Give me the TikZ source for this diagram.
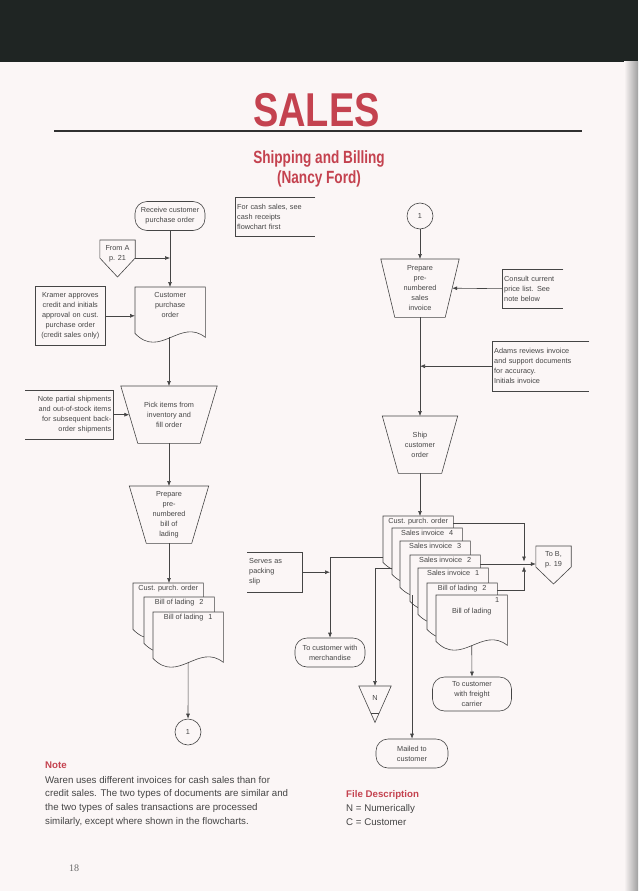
\documentclass[tikz,border=0pt]{standalone}
\usepackage{fontspec}
\setmainfont{Liberation Sans}
\newfontfamily\pagenumfont{Liberation Serif}
\usepackage{tikz}
\usetikzlibrary{arrows.meta,calc,positioning}
\definecolor{paper}{HTML}{FBF6F6}
\definecolor{band}{HTML}{1F2523}
\definecolor{ink}{HTML}{454545}
\definecolor{salesred}{HTML}{C4424F}
% document outline with a wavy foot
\newcommand\docshape[1]{%
  \draw[line,fill=paper] (#1.north west) -- (#1.north east) -- ([yshift=6pt]#1.south east)
    .. controls ([xshift=-25pt,yshift=26pt]#1.south east) and ([xshift=25pt,yshift=-16pt]#1.south west) .. ([yshift=10pt]#1.south west) -- cycle;}

\begin{document}
\begin{tikzpicture}[x=1pt,y=-1pt,
  line/.style={draw=ink,line width=0.6pt},
  flow/.style={line,-{Latex[length=5pt,width=4pt]}},
  txt/.style={font=\fontsize{7.3}{10}\selectfont,text=ink,inner sep=0pt,align=center},
  term/.style={txt,line,rounded corners=12pt,minimum width=70pt,minimum height=29pt},
  docu/.style={minimum width=70pt,minimum height=56pt,inner sep=0pt,anchor=north west},
  manop/.style={txt,minimum height=57pt,anchor=north},
  remark/.style={txt,inner xsep=2pt,anchor=north west},
  conn/.style={txt,line,circle,minimum size=26pt},
  body/.style={font=\fontsize{9.7}{13.7}\selectfont,text=ink,inner sep=0pt,align=left,anchor=north west},
  head/.style={font=\bfseries\fontsize{9.7}{13.7}\selectfont,text=salesred,inner sep=0pt,anchor=north west}]
  \fill[paper] (0,0) rectangle (638,891);
  \fill[band] (0,0) rectangle (638,62);
  \shade[left color=paper,right color=gray!75] (624,62) rectangle (638,891);
  \useasboundingbox (0,0) rectangle (638,891);

  \node[font=\bfseries\fontsize{38}{40}\selectfont,text=salesred,inner sep=0pt] (title) at (316.5,110) {\scalebox{1}[1.25]{SALES}};
  \draw[draw=ink!70!black,line width=2.4pt] (54,131) -- (582,131);
  \node[font=\bfseries\fontsize{13.6}{20}\selectfont,text=salesred,inner sep=0pt,align=center] (subtitle) at (319,168.5) {\scalebox{1}[1.3]{Shipping and Billing}\\\scalebox{1}[1.3]{(Nancy Ford)}};

  % left column
  \node[term] (recv) at (170,216) {Receive customer\\purchase order};
  \node[remark,text width=76pt,minimum height=39pt,align=left] (cash) at (235,197) {For cash sales, see\\cash receipts\\flowchart first};
  \draw[line] (cash.north east) -- (cash.north west) -- (cash.south west) -- (cash.south east);
  \node[txt,minimum width=35pt,minimum height=28pt,anchor=north] (froma) at (117.5,240) {From A\\p. 21};
  \draw[line] (froma.north west) -- (froma.north east) -- ([yshift=-18pt]froma.north east) -- ([yshift=-37pt]froma.north) -- ([yshift=-18pt]froma.north west) -- cycle;
  \coordinate (fromaout) at ([yshift=-18pt]froma.north east);
  \node[docu] (cpo) at (135,287) {};
  \docshape{cpo}
  \node[txt,below=5pt of cpo.north] (cpotxt) {Customer\\purchase\\order};
  \node[remark,line,text width=66pt,minimum height=59pt] (kramer) at (35,286) {Kramer approves\\credit and initials\\approval on cust.\\purchase order\\(credit sales only)};
  \node[manop,minimum width=96pt] (pick) at (169,386) {Pick items from\\inventory and\\fill order};
  \draw[line] (pick.north west) -- (pick.north east) -- ([xshift=-17pt]pick.south east) -- ([xshift=17pt]pick.south west) -- cycle;
  \node[remark,text width=84pt,minimum height=49pt,align=right] (note) at (25,390) {Note partial shipments\\and out-of-stock items\\for subsequent back-\\order shipments};
  \draw[line] (note.north west) -- (note.north east) -- (note.south east) -- (note.south west);
  \node[manop,minimum width=79pt] (prep) at (169,486) {Prepare\\pre-\\numbered\\bill of\\lading};
  \draw[line] (prep.north west) -- (prep.north east) -- ([xshift=-17pt]prep.south east) -- ([xshift=17pt]prep.south west) -- cycle;
  \node[docu] (lcpo) at (133,583) {};
  \docshape{lcpo}
  \node[txt,below=2pt of lcpo.north] (lcpot) {Cust. purch. order};
  \node[docu] (lbol2) at (144,597) {};
  \docshape{lbol2}
  \node[txt,below=2pt of lbol2.north] (lbol2t) {Bill of lading\hspace{5pt}2};
  \node[docu] (lbol1) at (153,612) {};
  \docshape{lbol1}
  \node[txt,below=2pt of lbol1.north] (lbol1t) {Bill of lading\hspace{5pt}1};
  \node[conn] (c1) at (188,732) {1};

  \draw[flow] (recv.south) -- (recv.south |- cpo.north);
  \draw[flow] (fromaout) -- (fromaout -| recv.south);
  \draw[flow] (kramer.east) -- (kramer.east -| cpo.west);
  \draw[flow] ([yshift=6pt]cpo.south -| pick.north) -- (pick.north);
  \draw[flow] (note.east) -- ($(pick.north west)!0.5!([xshift=17pt]pick.south west)$);
  \draw[flow] (pick.south) -- (prep.north);
  \draw[flow] (prep.south) -- (prep.south |- lcpo.north);
  \draw[flow] ([yshift=6pt]lbol1.south) -- (c1.north);

  % right column
  \node[conn] (c2) at (420,216) {1};
  \node[manop,minimum width=78pt,minimum height=58pt] (inv) at (420,259) {Prepare\\pre-\\numbered\\sales\\invoice};
  \draw[line] (inv.north west) -- (inv.north east) -- ([xshift=-14pt]inv.south east) -- ([xshift=14pt]inv.south west) -- cycle;
  \node[remark,text width=57pt,minimum height=39pt,align=left] (consult) at (502,269) {Consult current\\price list. See\\note below};
  \draw[line] (consult.north east) -- (consult.north west) -- (consult.south west) -- (consult.south east);
  \node[remark,text width=93pt,minimum height=50pt,align=left] (adams) at (492,341) {Adams reviews invoice\\and support documents\\for accuracy.\\Initials invoice};
  \draw[line] (adams.north east) -- (adams.north west) -- (adams.south west) -- (adams.south east);
  \node[manop,minimum width=75pt] (ship) at (420,416) {Ship\\customer\\order};
  \draw[line] (ship.north west) -- (ship.north east) -- ([xshift=-16pt]ship.south east) -- ([xshift=16pt]ship.south west) -- cycle;

  \node[docu] (r1) at (383,516) {};
  \docshape{r1}
  \node[txt,below=2pt of r1.north] (r1t) {Cust. purch. order};
  \node[docu] (r2) at (392,528) {};
  \docshape{r2}
  \node[txt,below=2pt of r2.north] (r2t) {Sales invoice\hspace{5pt}4};
  \node[docu] (r3) at (400,541) {};
  \docshape{r3}
  \node[txt,below=2pt of r3.north] (r3t) {Sales invoice\hspace{5pt}3};
  \node[docu] (r4) at (410,555) {};
  \docshape{r4}
  \node[txt,below=2pt of r4.north] (r4t) {Sales invoice\hspace{5pt}2};
  \node[docu] (r5) at (418,568) {};
  \docshape{r5}
  \node[txt,below=2pt of r5.north] (r5t) {Sales invoice\hspace{5pt}1};
  \node[docu] (r6) at (427,583) {};
  \docshape{r6}
  \node[txt,below=2pt of r6.north] (r6t) {Bill of lading\hspace{5pt}2};
  \node[docu,minimum width=71pt] (r7) at (436,595) {};
  \docshape{r7}
  \node[txt,anchor=north east] (r7n) at ([xshift=-8pt,yshift=-2pt]r7.north east) {1};
  \node[txt,below=13pt of r7.north] (r7t) {Bill of lading};

  \node[txt,minimum width=35pt,minimum height=28pt,anchor=north] (toB) at (553.5,546) {To B,\\p. 19};
  \draw[line] (toB.north west) -- (toB.north east) -- ([yshift=-21pt]toB.north east) -- ([yshift=-38pt]toB.north) -- ([yshift=-21pt]toB.north west) -- cycle;
  \coordinate (jn) at (524,564);
  \node[remark,text width=51pt,minimum height=40pt,align=left] (slip) at (247,552) {Serves as\\packing\\slip};
  \draw[line] (slip.north west) -- (slip.north east) -- (slip.south east) -- (slip.south west);
  \node[term] (merch) at (330,652.5) {To customer with\\merchandise};
  \node[minimum width=32pt,minimum height=36pt,inner sep=0pt,anchor=north] (nfile) at (375,686) {};
  \draw[line] (nfile.north west) -- (nfile.north east) -- (nfile.south) -- cycle;
  \draw[line] ($(nfile.south)!0.25!(nfile.north west)$) -- ($(nfile.south)!0.25!(nfile.north east)$);
  \node[txt,below=9pt of nfile.north] (nlab) {N};
  \node[term,minimum width=79pt,minimum height=34pt] (freight) at (472,694) {To customer\\with freight\\carrier};
  \node[term,minimum width=72pt] (mail) at (412,753.5) {Mailed to\\customer};

  \draw[flow] (c2.south) -- (inv.north);
  \draw[flow] (consult.west) -- ($(inv.north east)!0.5!([xshift=-14pt]inv.south east)$);
  \draw[flow] (adams.west) -- (adams.west -| inv.south);
  \draw[flow] (inv.south) -- (ship.north);
  \draw[flow] (ship.south) -- (ship.south |- r1.north);
  \draw[flow] ([yshift=-7pt]r1.north east) -| ([yshift=2.5pt]jn);
  \draw[flow] ([yshift=-7pt]r6.north east) -| ([yshift=-2.5pt]jn);
  \draw[flow] ([yshift=-9pt]r4.north east) -- (jn -| toB.west);
  \draw[flow] ([yshift=-41pt]r1.north west) -| (merch.north);
  \draw[flow] (slip.east) -- (slip.east -| merch.north);
  \draw[flow] ([yshift=-40pt]r2.north west) -| (nfile.north);
  \draw[flow] ([yshift=2pt]mail.north |- r3.south) -- (mail.north);
  \draw[flow] ([yshift=6pt]r7.south) -- (freight.north);

  % notes
  \node[head] (notehd) at (45,762) {Note};
  \node[body] (notebody) at (45,776) {Waren uses different invoices for cash sales than for\\credit sales. The two types of documents are similar and\\the two types of sales transactions are processed\\similarly, except where shown in the flowcharts.};
  \node[head] (filehd) at (346,790.5) {File Description};
  \node[body] (filebody) at (346,804.5) {N = Numerically\\C = Customer};
  \node[font=\pagenumfont\fontsize{10}{12}\selectfont,text=ink!80] (pagenum) at (74,868) {18};
\end{tikzpicture}
\end{document}
